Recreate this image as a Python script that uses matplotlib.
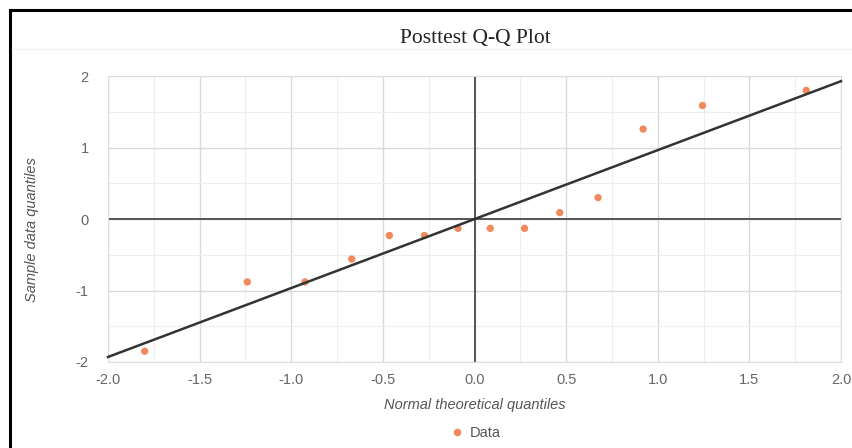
import numpy as np
import matplotlib
matplotlib.use('Agg')
import matplotlib.pyplot as plt
from matplotlib.lines import Line2D

# normal theoretical quantiles vs sample quantiles
theoretical = [-1.80, -1.24, -0.925, -0.67, -0.465, -0.273, -0.09,
               0.086, 0.273, 0.465, 0.674, 0.92, 1.244, 1.81]
sample = [-1.85, -0.88, -0.88, -0.56, -0.23, -0.23, -0.13,
          -0.13, -0.13, 0.09, 0.30, 1.26, 1.59, 1.80]
ref_x = [-2.0, 2.0]
ref_y = [-1.93, 1.93]

xticks = [-2.0, -1.5, -1.0, -0.5, 0.0, 0.5, 1.0, 1.5, 2.0]
yticks = [-2, -1, 0, 1, 2]

plt.rcParams['font.family'] = ['Liberation Sans', 'DejaVu Sans']
plt.rcParams['axes.unicode_minus'] = False

fig = plt.figure(figsize=(8.53, 4.48), dpi=100)
ax = fig.add_axes([0.1266, 0.192, 0.8594, 0.638])

ax.set_xlim(-2, 2)
ax.set_ylim(-2, 2)
ax.set_xticks(xticks)
ax.set_xticklabels([f"{t:.1f}" for t in xticks])
ax.set_yticks(yticks)
ax.set_yticklabels([str(t) for t in yticks])
ax.set_xticks(np.arange(-2, 2.01, 0.25), minor=True)
ax.set_yticks(np.arange(-2, 2.01, 0.5), minor=True)
ax.grid(which='major', color='#d9d9d9', lw=1.0)
ax.grid(which='minor', color='#eeeeee', lw=0.8)
ax.tick_params(which='both', length=0)
ax.tick_params(axis='both', labelsize=10.5, labelcolor='#666666')
ax.tick_params(axis='x', pad=8)
ax.tick_params(axis='y', pad=14)
for s in ax.spines.values():
    s.set_color('#dddddd')
    s.set_linewidth(0.8)

ax.axhline(0, color='#555555', lw=1.4, zorder=2)
ax.axvline(0, color='#555555', lw=1.4, zorder=2)

ax.scatter(theoretical, sample, s=28, color='#f08a5d', zorder=3, edgecolors='none')
ax.plot(ref_x, ref_y, color='#333333', lw=1.8, zorder=4, clip_on=False)

ax.set_xlabel("Normal theoretical quantiles", style='italic', color='#555555',
              fontsize=10.5, labelpad=8)
fig.text(0.038, 0.487, "Sample data quantiles", rotation=90, style='italic',
         color='#555555', fontsize=10.5, ha='center', va='center')

fig.text(0.557, 0.915, "Posttest Q-Q Plot", family='Liberation Serif',
         fontsize=15.5, ha='center', va='center', color='#222222')

handle = Line2D([], [], marker='o', ls='', color='#f08a5d', markersize=4.5)
fig.legend([handle], ["Data"], loc='center', bbox_to_anchor=(0.557, 0.033),
           frameon=False, fontsize=10.5, labelcolor='#555555',
           handletextpad=0.4, handlelength=1.0)

# outer frame: top and left edges, plus light separator under the title
fig.add_artist(Line2D([0.012, 1.0], [0.978, 0.978], color='black', lw=2.2))
fig.add_artist(Line2D([0.012, 0.012], [0.0, 0.978], color='black', lw=2.2))
fig.add_artist(Line2D([0.014, 1.0], [0.89, 0.89], color='#f0f0f0', lw=1.0))

fig.savefig("out.png", dpi=100)
